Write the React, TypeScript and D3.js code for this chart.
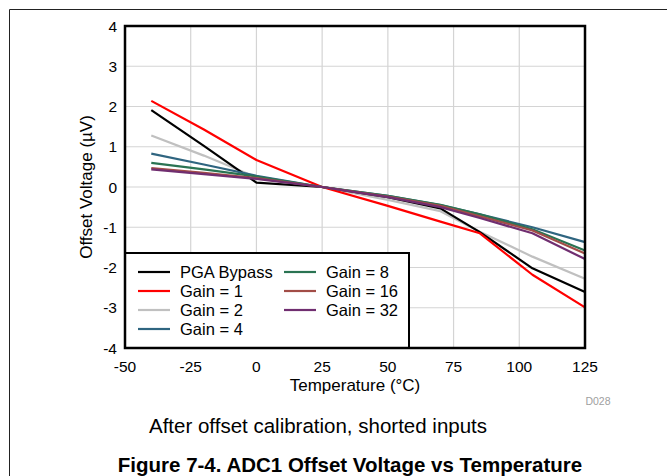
import React from 'react'
import * as d3 from 'd3'

// temperature points (°C) and offset voltage (µV) for each gain setting
const temps = [-40, -20, 0, 25, 50, 70, 85, 105, 125]
const pgaBypass = [1.91, 1.02, 0.11, 0, -0.25, -0.53, -1.12, -2.02, -2.61]
const gain1 = [2.14, 1.43, 0.67, 0, -0.47, -0.86, -1.15, -2.18, -2.99]
const gain2 = [1.28, 0.78, 0.24, 0, -0.32, -0.6, -1.11, -1.73, -2.28]
const gain4 = [0.83, 0.56, 0.28, 0, -0.22, -0.45, -0.68, -1.0, -1.37]
const gain8 = [0.6, 0.44, 0.26, 0, -0.22, -0.44, -0.68, -1.05, -1.58]
const gain16 = [0.47, 0.35, 0.22, 0, -0.24, -0.47, -0.73, -1.08, -1.65]
const gain32 = [0.44, 0.32, 0.2, 0, -0.25, -0.5, -0.77, -1.15, -1.79]

const seriesNames = ['PGA Bypass', 'Gain = 1', 'Gain = 2', 'Gain = 4', 'Gain = 8', 'Gain = 16', 'Gain = 32']
const seriesValues = [pgaBypass, gain1, gain2, gain4, gain8, gain16, gain32]
const seriesColors = ['#000000', '#ff0000', '#c0c0c0', '#2f6580', '#2a7352', '#a24d47', '#702e70']

const xTicks = [-50, -25, 0, 25, 50, 75, 100, 125]
const yTicks = [-4, -3, -2, -1, 0, 1, 2, 3, 4]

const W = 667
const H = 476
const FONT = 'Arial, "Liberation Sans", sans-serif'

const App = () => {
  const left = 125
  const right = 585
  const top = 26
  const bottom = 348

  const x = d3.scaleLinear().domain([-50, 125]).range([left, right])
  const y = d3.scaleLinear().domain([-4, 4]).range([bottom, top])

  const line = d3
    .line<[number, number]>()
    .x((d) => x(d[0]))
    .y((d) => y(d[1]))

  // draw order: light lines first so the darker ones sit on top
  const order = [2, 0, 1, 3, 4, 5, 6]

  const legX = left
  const legY = 253
  const legW = 284
  const rowH = 19

  return (
    <svg width={W} height={H} style={{ position: 'absolute', left: 0, top: 0 }} fontFamily={FONT}>
      <rect x={0} y={0} width={W} height={H} fill="#fff" />
      <path d={`M9.5,${H + 5}V9.5H${W + 5}`} fill="none" stroke="#222" strokeWidth={1} />

      {/* grid */}
      <g stroke="#d4d4d4" strokeWidth={1.2}>
        {xTicks.slice(1, -1).map((t) => (
          <line key={'gx' + t} x1={x(t)} x2={x(t)} y1={top} y2={bottom} />
        ))}
        {yTicks.slice(1, -1).map((t) => (
          <line key={'gy' + t} x1={left} x2={right} y1={y(t)} y2={y(t)} />
        ))}
      </g>

      {/* series */}
      <g fill="none" strokeWidth={2.2} strokeLinejoin="round">
        {order.map((i) => (
          <path
            key={seriesNames[i]}
            d={line(temps.map((t, j) => [t, seriesValues[i][j]]) as [number, number][]) || ''}
            stroke={seriesColors[i]}
          />
        ))}
      </g>

      {/* legend */}
      <rect x={legX} y={legY} width={legW} height={bottom - legY} fill="#fff" stroke="#000" strokeWidth={2} />
      {seriesNames.map((name, i) => {
        const col = i < 4 ? 0 : 1
        const row = i < 4 ? i : i - 4
        const lx = legX + 13 + col * 146
        const ly = legY + 19 + row * rowH
        return (
          <g key={'leg' + name}>
            <line x1={lx} x2={lx + 32} y1={ly} y2={ly} stroke={seriesColors[i]} strokeWidth={2.2} />
            <text x={lx + 42} y={ly} dy="0.36em" fontSize={16.5} fill="#000">
              {name}
            </text>
          </g>
        )
      })}

      {/* plot border */}
      <rect x={left} y={top} width={right - left} height={bottom - top} fill="none" stroke="#000" strokeWidth={2.5} />

      {/* tick labels */}
      <g fontSize={15.5} fill="#000">
        {xTicks.map((t) => (
          <text key={'xt' + t} x={x(t)} y={bottom + 18} textAnchor="middle" dy="0.36em">
            {t}
          </text>
        ))}
        {yTicks.map((t) => (
          <text key={'yt' + t} x={left - 8} y={y(t)} textAnchor="end" dy="0.36em">
            {t}
          </text>
        ))}
      </g>

      <text x={(left + right) / 2} y={bottom + 37} textAnchor="middle" dy="0.36em" fontSize={17} fill="#000">
        Temperature (°C)
      </text>
      <text
        transform={`translate(86,${(top + bottom) / 2}) rotate(-90)`}
        textAnchor="middle"
        dy="0.36em"
        fontSize={17}
        fill="#000"
      >
        Offset Voltage (µV)
      </text>
      <text x={598} y={401} textAnchor="middle" dy="0.36em" fontSize={10.5} fill="#a0a0a0">
        D028
      </text>

      <text x={318} y={426} textAnchor="middle" dy="0.36em" fontSize={20.5} fill="#000">
        After offset calibration, shorted inputs
      </text>
      <text x={350} y={465} textAnchor="middle" dy="0.36em" fontSize={20.5} fontWeight="bold" fill="#000">
        Figure 7-4. ADC1 Offset Voltage vs Temperature
      </text>
    </svg>
  )
}

export default App
